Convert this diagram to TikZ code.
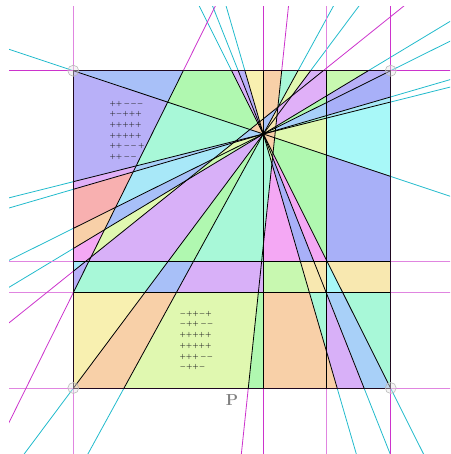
\documentclass[tikz,border=0pt]{standalone}
\usetikzlibrary{calc}
\definecolor{rayc}{HTML}{22BBCC}
\definecolor{magc}{HTML}{CC33CC}
\definecolor{blu}{HTML}{A8C0F8}
\definecolor{lav}{HTML}{B8B0F8}
\definecolor{leaf}{HTML}{B0F8B0}
\definecolor{mint}{HTML}{A8F8D8}
\definecolor{ice}{HTML}{A8E8F8}
\definecolor{aqua}{HTML}{A8F8F8}
\definecolor{salmon}{HTML}{F8B0B0}
\definecolor{peach}{HTML}{F8D0A8}
\definecolor{rose}{HTML}{F4A8F4}
\definecolor{orchid}{HTML}{E0B0F8}
\definecolor{grape}{HTML}{D8B0F8}
\definecolor{butter}{HTML}{F8F0B0}
\definecolor{chart}{HTML}{E0F8B0}
\definecolor{cream}{HTML}{F8E8B0}
\definecolor{peri}{HTML}{A8B0F8}
\definecolor{sky}{HTML}{A8D0F8}
\definecolor{spring}{HTML}{C8F8B0}
\begin{document}
\begin{tikzpicture}[
  x=1pt, y=-1pt,
  pen/.style={rayc, line width=0.8pt},
  mag/.style={magc, line width=0.8pt},
  magl/.style={magc!60, line width=0.9pt},
  cut/.style={black, line width=0.8pt},
  whole/.style={insert path={(-50,-50) rectangle (500,500)}},
  L1w/.style={insert path={(l1a) -- (l1b) -- (-50,500) -- (-50,-50) -- cycle}},
  L2e/.style={insert path={(l2a) -- (l2b) -- (500,500) -- (500,-50) -- cycle}},
  L3n/.style={insert path={(l3a) -- (l3b) -- (500,-100) -- (-50,-100) -- cycle}},
  H261s/.style={insert path={(-50,261.3) rectangle (500,500)}},
  H293s/.style={insert path={(-50,292.7) rectangle (500,500)}},
  V327e/.style={insert path={(326.7,-50) rectangle (500,500)}},
  signs/.style={font=\fontsize{6.5}{10.7}\selectfont\boldmath, text=black!85,
                align=left, inner sep=0pt, anchor=north west},
]
\useasboundingbox (0,0) rectangle (450,454);

% ─── pencil point, square, ray ends on the square ───────────────────────────
\coordinate (C)    at (263.3,134);
\coordinate (TL)   at (73.3,70.7);
\coordinate (TR)   at (390.7,70.7);
\coordinate (BR)   at (390.7,388);
\coordinate (BL)   at (73.3,388);
\coordinate (A1t)  at (231.6,70.7);
\coordinate (A2t)  at (238.2,70.7);
\coordinate (A3t)  at (244.9,70.7);
\coordinate (Vt)   at (263.3,70.7);
\coordinate (A4t)  at (298,70.7);
\coordinate (A5t)  at (310.6,70.7);
\coordinate (A7t)  at (368.3,70.7);
\coordinate (A10r) at (390.7,96.9);
\coordinate (A9r)  at (390.7,102.0);
\coordinate (A6r)  at (390.7,176.3);
\coordinate (A2b)  at (364,388);
\coordinate (A3b)  at (337,388);
\coordinate (Vb)   at (263.3,388);
\coordinate (A4b)  at (124.1,388);
\coordinate (A7l)  at (73.3,248.5);
\coordinate (A8l)  at (73.3,228.4);
\coordinate (A10l) at (73.3,189.3);
\coordinate (A9l)  at (73.3,181.7);
% the three lines off the pencil
\coordinate (l1a) at (243.1,-50);  \coordinate (l1b) at (-29.4,500);
\coordinate (l2a) at (294.4,-50);  \coordinate (l2b) at (236.5,500);
\coordinate (l3a) at (-50,370.2);  \coordinate (l3b) at (500,-71.1);

% ─── lines outside the square ───────────────────────────────────────────────
\begin{scope}
  \clip (9,6.7) rectangle (450,454);
  \foreach \p in {A1t,A2t,A3t,A4t,A5t,A7t,TR,A9l,A10l,TL}
    \draw[pen] ($(C)!-8!(\p)$) -- ($(C)!8!(\p)$);
  \foreach \x in {73.3,326.7}
    \draw[magl] (\x,0) -- (\x,460);
  \foreach \x in {263.3,390.7}
    \draw[mag] (\x,0) -- (\x,460);
  \foreach \y in {261.3,292.7,388}
    \draw[magl] (0,\y) -- (460,\y);
  \draw[mag] (0,70.7) -- (460,70.7);
  \draw[mag] (l1a) -- (l1b);
  \draw[mag] (l2a) -- (l2b);
  \draw[mag] (l3a) -- (l3b);
\end{scope}

% ─── cells, sector by sector (clockwise from the top-left corner) ──────────
\begin{scope}\clip (C) -- (TL) -- (A1t) -- cycle;
  \fill[peach, whole]; \fill[leaf, L3n]; \fill[blu, L1w];
\end{scope}
\begin{scope}\clip (C) -- (A1t) -- (A2t) -- cycle;
  \fill[chart, whole]; \fill[grape, L3n];
\end{scope}
\begin{scope}\clip (C) -- (A2t) -- (A3t) -- cycle;
  \fill[peach, whole]; \fill[lav, L3n];
\end{scope}
\begin{scope}\clip (C) -- (A3t) -- (Vt) -- cycle;
  \fill[peach, whole]; \fill[butter, L3n];
\end{scope}
\begin{scope}\clip (C) -- (Vt) -- (A4t) -- cycle;
  \fill[blu, whole]; \fill[peach, L3n]; \fill[mint, L2e];
\end{scope}
\begin{scope}\clip (C) -- (A4t) -- (A5t) -- cycle;
  \fill[cream, whole]; \fill[orchid, L2e]; \fill[chart, L3n];
\end{scope}
\begin{scope}\clip (C) -- (A5t) -- (A7t) -- cycle;
  \fill[cream, whole]; \fill[orchid, L2e]; \fill[grape, L3n];
  \fill[spring, V327e];
\end{scope}
\begin{scope}\clip (C) -- (A7t) -- (TR) -- cycle;
  \fill[peach, whole]; \fill[leaf, L2e]; \fill[lav, V327e];
\end{scope}
\begin{scope}\clip (C) -- (TR) -- (A10r) -- cycle;
  \fill[chart, whole]; \fill[sky, L2e]; \fill[peri, V327e];
\end{scope}
\begin{scope}\clip (C) -- (A10r) -- (A9r) -- cycle;
  \fill[rose, whole]; \fill[mint, L2e]; \fill[ice, V327e];
\end{scope}
\begin{scope}\clip (C) -- (A9r) -- (A6r) -- cycle;
  \fill[peach, whole]; \fill[chart, L2e]; \fill[aqua, V327e];
\end{scope}
\begin{scope}\clip (C) -- (A6r) -- (BR) -- cycle;
  \fill[peach, whole]; \fill[leaf, L2e]; \fill[peri, V327e];
  \fill[cream, H261s]; \fill[mint, H293s];
\end{scope}
\begin{scope}\clip (C) -- (BR) -- (A2b) -- cycle;
  \fill[chart, whole]; \fill[rose, L2e]; \fill[cream, H261s];
  \fill[aqua, V327e]; \fill[sky, H293s];
\end{scope}
\begin{scope}\clip (C) -- (A2b) -- (A3b) -- cycle;
  \fill[chart, whole]; \fill[peri, L2e]; \fill[cream, H261s];
  \fill[mint, H293s]; \fill[grape, V327e];
\end{scope}
\begin{scope}\clip (C) -- (A3b) -- (Vb) -- cycle;
  \fill[mint, whole]; \fill[rose, L2e]; \fill[spring, H261s];
  \fill[peach, H293s];
\end{scope}
\begin{scope}\clip (C) -- (Vb) -- (A4b) -- cycle;
  \fill[mint, whole]; \fill[grape, H261s]; \fill[chart, H293s];
  \begin{scope}\clip[L2e]; \fill[leaf, H293s]; \end{scope}
\end{scope}
\begin{scope}\clip (C) -- (A4b) -- (BL) -- cycle;
  \fill[leaf, whole]; \fill[blu, H261s]; \fill[peach, H293s];
\end{scope}
\begin{scope}\clip (C) -- (BL) -- (A7l) -- cycle;
  \fill[grape, whole]; \fill[chart, L3n]; \fill[rose, L1w];
  \fill[mint, H261s];
  \begin{scope}\clip[H261s]; \fill[lav, L1w]; \fill[ice, L3n]; \end{scope}
  \fill[butter, H293s];
\end{scope}
\begin{scope}\clip (C) -- (A7l) -- (A8l) -- cycle;
  \fill[spring, whole]; \fill[blu, L3n]; \fill[peach, L1w];
\end{scope}
\begin{scope}\clip (C) -- (A8l) -- (A10l) -- cycle;
  \fill[chart, whole]; \fill[ice, L3n]; \fill[salmon, L1w];
\end{scope}
\begin{scope}\clip (C) -- (A10l) -- (A9l) -- cycle;
  \fill[rose, whole]; \fill[sky, L3n]; \fill[orchid, L1w];
\end{scope}
\begin{scope}\clip (C) -- (A9l) -- (TL) -- cycle;
  \fill[sky, whole]; \fill[mint, L3n]; \fill[lav, L1w];
\end{scope}

% ─── lines inside the square ────────────────────────────────────────────────
\begin{scope}
  \clip (TL) rectangle (BR);
  \foreach \p in {A1t,A2t,A3t,A4t,A5t,A7t,TR,A9l,A10l,TL}
    \draw[cut] ($(C)!-8!(\p)$) -- ($(C)!8!(\p)$);
  \foreach \x in {263.3,326.7}
    \draw[cut] (\x,0) -- (\x,460);
  \foreach \y in {261.3,292.7}
    \draw[cut] (0,\y) -- (460,\y);
  \draw[cut] (l1a) -- (l1b);
  \draw[cut] (l2a) -- (l2b);
  \draw[cut] (l3a) -- (l3b);
\end{scope}
\draw[black!85!magc, line width=1pt] (TL) rectangle (BR);

% corner marks
\foreach \c in {TL,TR,BR,BL}
  \draw[gray!55, fill=gray!20, fill opacity=0.4, line width=0.6pt] (\c) circle (5.5);

% ─── sign vectors and label ─────────────────────────────────────────────────
\node[signs] (topsigns) at (109.3,100.8)
  {${+}{+}\,{-}{-}{-}$\\ ${+}{-}{+}{+}{+}$\\ ${+}{+}{+}{+}{+}$\\
   ${+}{+}{+}{+}{+}$\\ ${+}{+}\,{-}{-}\,{+}$\\ ${+}{+}\,{-}{-}$};
\node[signs] (botsigns) at (179.3,310.8)
  {${-}{+}{+}{-}{+}$\\ ${-}{+}{+}\,{-}{-}$\\ ${+}{+}{+}{+}{+}$\\
   ${+}{+}{+}{+}{+}$\\ ${+}{+}{+}\,{-}{-}$\\ ${-}{+}{+}{-}$};
\node[font=\bfseries\fontsize{16}{16}\selectfont, text=black!50] (plabel)
  at (232,400) {P};

\end{tikzpicture}
\end{document}
